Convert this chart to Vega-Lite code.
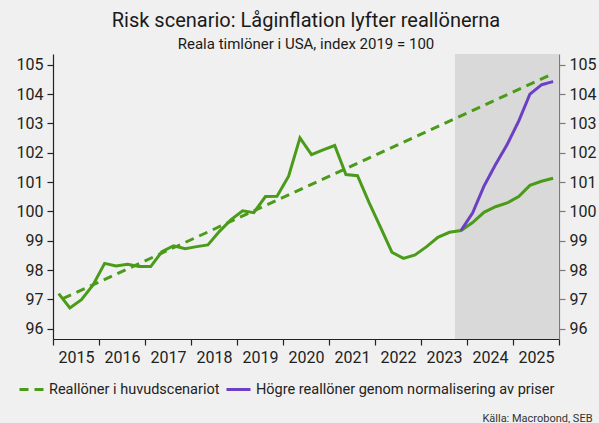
{
  "$schema": "https://vega.github.io/schema/vega-lite/v6.json",
  "width": 506,
  "height": 285,
  "autosize": "none",
  "padding": {"left": 53, "top": 54, "right": 40, "bottom": 84},
  "background": "#f0f0f0",
  "config": {
    "font": "Roboto",
    "view": {"stroke": null},
    "axis": {"grid": false, "labelColor": "#222222", "labelFontSize": 16, "tickSize": 6, "tickWidth": 1.2, "domainWidth": 1.2}
  },
  "title": {
    "text": "Risk scenario: Låginflation lyfter reallönerna",
    "subtitle": "Reala timlöner i USA, index 2019 = 100",
    "fontSize": 20,
    "subtitleFontSize": 15,
    "fontWeight": "normal",
    "color": "#1a1a1a",
    "subtitleColor": "#1a1a1a",
    "anchor": "middle",
    "offset": 2,
    "subtitlePadding": 6
  },
  "datasets": {
    "hist": [
      {"date": "2015-02-15", "value": 97.2},
      {"date": "2015-05-15", "value": 96.71},
      {"date": "2015-08-15", "value": 96.99},
      {"date": "2015-11-15", "value": 97.49},
      {"date": "2016-02-15", "value": 98.23},
      {"date": "2016-05-15", "value": 98.14},
      {"date": "2016-08-15", "value": 98.2},
      {"date": "2016-11-15", "value": 98.12},
      {"date": "2017-02-15", "value": 98.12},
      {"date": "2017-05-15", "value": 98.63},
      {"date": "2017-08-15", "value": 98.83},
      {"date": "2017-11-15", "value": 98.73},
      {"date": "2018-02-15", "value": 98.8},
      {"date": "2018-05-15", "value": 98.86},
      {"date": "2018-08-15", "value": 99.32},
      {"date": "2018-11-15", "value": 99.72},
      {"date": "2019-02-15", "value": 100.02},
      {"date": "2019-05-15", "value": 99.96},
      {"date": "2019-08-15", "value": 100.51},
      {"date": "2019-11-15", "value": 100.52},
      {"date": "2020-02-15", "value": 101.2},
      {"date": "2020-05-15", "value": 102.51},
      {"date": "2020-08-15", "value": 101.94},
      {"date": "2020-11-15", "value": 102.1},
      {"date": "2021-02-15", "value": 102.25},
      {"date": "2021-05-15", "value": 101.26},
      {"date": "2021-08-15", "value": 101.22},
      {"date": "2021-11-15", "value": 100.3},
      {"date": "2022-02-15", "value": 99.45},
      {"date": "2022-05-15", "value": 98.61},
      {"date": "2022-08-15", "value": 98.4},
      {"date": "2022-11-15", "value": 98.52},
      {"date": "2023-02-15", "value": 98.8},
      {"date": "2023-05-15", "value": 99.12},
      {"date": "2023-08-15", "value": 99.29},
      {"date": "2023-11-15", "value": 99.35},
      {"date": "2024-02-15", "value": 99.62},
      {"date": "2024-05-15", "value": 99.97},
      {"date": "2024-08-15", "value": 100.16},
      {"date": "2024-11-15", "value": 100.29},
      {"date": "2025-02-15", "value": 100.51},
      {"date": "2025-05-15", "value": 100.89},
      {"date": "2025-08-15", "value": 101.03},
      {"date": "2025-11-15", "value": 101.13}
    ],
    "scen": [
      {"date": "2015-03-20", "value": 97.03, "series": "Reallöner i huvudscenariot"},
      {"date": "2025-11-15", "value": 104.7, "series": "Reallöner i huvudscenariot"},
      {"date": "2023-11-15", "value": 99.35, "series": "Högre reallöner genom normalisering av priser"},
      {"date": "2024-02-15", "value": 99.95, "series": "Högre reallöner genom normalisering av priser"},
      {"date": "2024-05-15", "value": 100.86, "series": "Högre reallöner genom normalisering av priser"},
      {"date": "2024-08-15", "value": 101.6, "series": "Högre reallöner genom normalisering av priser"},
      {"date": "2024-11-15", "value": 102.28, "series": "Högre reallöner genom normalisering av priser"},
      {"date": "2025-02-15", "value": 103.08, "series": "Högre reallöner genom normalisering av priser"},
      {"date": "2025-05-15", "value": 104.0, "series": "Högre reallöner genom normalisering av priser"},
      {"date": "2025-08-15", "value": 104.32, "series": "Högre reallöner genom normalisering av priser"},
      {"date": "2025-11-15", "value": 104.43, "series": "Högre reallöner genom normalisering av priser"}
    ],
    "shade": [{"start": "2023-09-28", "end": "2026-01-01"}]
  },
  "layer": [
    {
      "data": {"name": "shade"},
      "mark": {"type": "rect", "color": "#d9d9d9"},
      "encoding": {
        "x": {
          "field": "start", "type": "temporal",
          "scale": {"type": "utc", "domain": [{"year": 2015, "month": 1, "date": 1, "utc": true}, {"year": 2026, "month": 1, "date": 1, "utc": true}]},
          "axis": {
            "values": [
              {"year": 2015, "utc": true}, {"year": 2016, "utc": true}, {"year": 2017, "utc": true},
              {"year": 2018, "utc": true}, {"year": 2019, "utc": true}, {"year": 2020, "utc": true},
              {"year": 2021, "utc": true}, {"year": 2022, "utc": true}, {"year": 2023, "utc": true},
              {"year": 2024, "utc": true}, {"year": 2025, "utc": true}, {"year": 2026, "utc": true}
            ],
            "labelExpr": "utcyear(datum.value) > 2025 ? '' : utcFormat(datum.value, '%Y')",
            "labelOffset": 23,
            "labelPadding": 4,
            "labelFlush": false,
            "labelOverlap": false,
            "domainColor": "#222222",
            "tickColor": "#222222",
            "title": "Källa: Macrobond, SEB",
            "titleFontSize": 11,
            "titleFontWeight": "normal",
            "titleColor": "#333333",
            "titleAnchor": "end",
            "titleAlign": "right",
            "titleBaseline": "middle",
            "titleX": 539,
            "titleY": 79
          }
        },
        "x2": {"field": "end"}
      }
    },
    {
      "data": {"name": "hist"},
      "mark": {"type": "line", "color": "#4b9b1b", "strokeWidth": 3, "strokeJoin": "miter"},
      "encoding": {
        "x": {"field": "date", "type": "temporal"},
        "y": {
          "field": "value", "type": "quantitative",
          "scale": {"domain": [95.65, 105.37], "zero": false, "nice": false},
          "axis": {
            "orient": "left",
            "values": [96, 97, 98, 99, 100, 101, 102, 103, 104, 105],
            "title": null,
            "labelPadding": 4,
            "domainColor": "#222222",
            "tickColor": "#222222"
          }
        }
      }
    },
    {
      "data": {"name": "scen"},
      "mark": {"type": "line", "strokeWidth": 3, "strokeJoin": "miter"},
      "encoding": {
        "x": {"field": "date", "type": "temporal"},
        "y": {
          "field": "value", "type": "quantitative",
          "scale": {"domain": [95.65, 105.37], "zero": false, "nice": false},
          "axis": {
            "orient": "right",
            "values": [96, 97, 98, 99, 100, 101, 102, 103, 104, 105],
            "title": null,
            "labelPadding": 4,
            "domainColor": "#7a7a7a",
            "tickColor": "#7a7a7a"
          }
        },
        "color": {
          "field": "series", "type": "nominal",
          "scale": {"domain": ["Reallöner i huvudscenariot", "Högre reallöner genom normalisering av priser"], "range": ["#4b9b1b", "#6c3fc4"]},
          "legend": {
            "title": null,
            "orient": "none",
            "direction": "horizontal",
            "legendX": -35,
            "legendY": 322,
            "labelFontSize": 14.5,
            "labelLimit": 0,
            "labelColor": "#222222",
            "symbolType": "stroke",
            "symbolSize": 576,
            "symbolStrokeWidth": 3,
            "labelOffset": 4,
            "columnPadding": 0
          }
        },
        "strokeDash": {
          "field": "series", "type": "nominal",
          "scale": {"domain": ["Reallöner i huvudscenariot", "Högre reallöner genom normalisering av priser"], "range": [[9, 6], [1, 0]]},
          "legend": {
            "title": null,
            "orient": "none",
            "direction": "horizontal",
            "legendX": -35,
            "legendY": 322,
            "labelFontSize": 14.5,
            "labelLimit": 0,
            "labelColor": "#222222",
            "symbolType": "stroke",
            "symbolSize": 576,
            "symbolStrokeWidth": 3,
            "labelOffset": 4,
            "columnPadding": 0
          }
        }
      }
    }
  ],
  "resolve": {"axis": {"y": "independent"}}
}
